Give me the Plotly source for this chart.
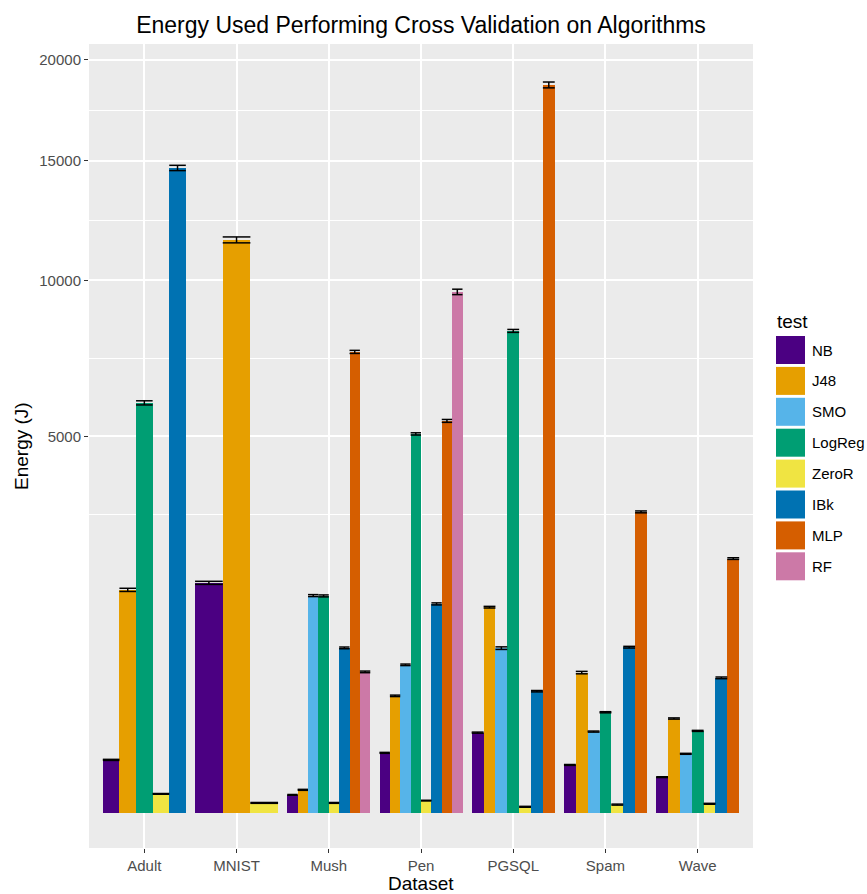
import numpy as np
import plotly.graph_objects as go

# ---------------- data ----------------
datasets = ["Adult", "MNIST", "Mush", "Pen", "PGSQL", "Spam", "Wave"]
algorithms = ["NB", "J48", "SMO", "LogReg", "ZeroR", "IBk", "MLP", "RF"]
colors = ["#4B0082", "#E69F00", "#56B4E9", "#009E73", "#F0E442", "#0072B2", "#D55E00", "#CC79A7"]

nb     = [99, 1866, 11.4, 127, 227, 81, 45]
j48    = [1754, 11580, 18.7, 483, 1492, 694, 314]
smo    = [None, None, 1665, 773, 957, 233, 123]
logreg = [5929, None, 1660, 5065, 8193, 357, 237]
zeror  = [12.7, 3.5, 3.5, 5.3, 1.3, 2.4, 2.9]
ibk    = [14670, None, 960, 1540, 522, 968, 643]
mlp    = [None, None, 7495, 5419, 18690, 3195, 2281]
rf     = [None, None, 701, 9573, None, None, None]

nb_err     = [2, 25, 0.5, 2, 3, 1.5, 1]
j48_err    = [25, 120, 0.8, 6, 12, 12, 4]
smo_err    = [None, None, 15, 8, 15, 3, 2]
logreg_err = [60, None, 15, 30, 50, 4, 3]
zeror_err  = [0.5, 0.3, 0.3, 0.3, 0.2, 0.3, 0.3]
ibk_err    = [120, None, 10, 15, 6, 10, 8]
mlp_err    = [None, None, 50, 40, 150, 20, 15]
rf_err     = [None, None, 8, 100, None, None, None]

y_ticks = [5000, 10000, 15000, 20000]
y_tick_labels = ["5000", "10000", "15000", "20000"]

values = dict(zip(algorithms, [nb, j48, smo, logreg, zeror, ibk, mlp, rf]))
errors = dict(zip(algorithms, [nb_err, j48_err, smo_err, logreg_err, zeror_err, ibk_err, mlp_err, rf_err]))

# ---------------- layout geometry ----------------
W, H = 867, 894
ML, MR, MT, MB = 89, 114, 44, 46
PW, PH = W - ML - MR, H - MT - MB


def px_x(p):
    return (p - ML) / PW


def px_y(p):
    return (H - MB - p) / PH


# ---------------- dodge positions (ggplot position_dodge, width 0.9) ----------------
pos = {a: [None] * len(datasets) for a in algorithms}
wid = {a: [None] * len(datasets) for a in algorithms}
for i, ds in enumerate(datasets):
    present = [a for a in algorithms if values[a][i] is not None]
    n = len(present)
    w = 0.9 / n
    for k, a in enumerate(present):
        pos[a][i] = (i + 1) - 0.45 + w * (k + 0.5)
        wid[a][i] = w

fig = go.Figure()

# bars (sqrt-transformed y scale)
for a, c in zip(algorithms, colors):
    idx = [i for i in range(len(datasets)) if values[a][i] is not None]
    fig.add_trace(go.Bar(
        x=[pos[a][i] for i in idx],
        y=[np.sqrt(values[a][i]) for i in idx],
        width=[wid[a][i] for i in idx],
        marker=dict(color=c, line=dict(width=0)),
        name=a,
        showlegend=False,
    ))

# error bars
ex, ey = [], []
for a in algorithms:
    for i in range(len(datasets)):
        v = values[a][i]
        if v is None:
            continue
        e = errors[a][i]
        x0 = pos[a][i] - wid[a][i] / 2
        x1 = pos[a][i] + wid[a][i] / 2
        lo = np.sqrt(max(v - e, 0))
        hi = np.sqrt(v + e)
        ex += [x0, x1, None, x0, x1, None, pos[a][i], pos[a][i], None]
        ey += [hi, hi, None, lo, lo, None, lo, hi, None]
fig.add_trace(go.Scatter(x=ex, y=ey, mode="lines", line=dict(color="black", width=1.5),
                         showlegend=False, hoverinfo="skip"))

# y-axis minor breaks (midpoints in transformed space)
major_t = np.sqrt(np.array(y_ticks, dtype=float))
mids = list((major_t[:-1] + major_t[1:]) / 2)
minor_t = [major_t[0] - (mids[0] - major_t[0])] + mids

FONT = "Liberation Sans, Arial, Helvetica, sans-serif"

fig.update_layout(
    width=W, height=H,
    margin=dict(l=ML, r=MR, t=MT, b=MB),
    paper_bgcolor="white",
    plot_bgcolor="#EBEBEB",
    barmode="overlay",
    bargap=0,
    font=dict(family=FONT),
    title=dict(text="Energy Used Performing Cross Validation on Algorithms",
               x=0.5, xref="paper", xanchor="center",
               y=1 - 25 / H, yref="container", yanchor="middle",
               font=dict(size=23, color="black", family=FONT)),
    showlegend=False,
)

fig.update_xaxes(
    range=[0.4, 7.6],
    tickmode="array", tickvals=list(range(1, len(datasets) + 1)), ticktext=datasets,
    showgrid=True, gridcolor="white", gridwidth=2,
    zeroline=False, showline=False,
    ticks="outside", ticklen=4, tickwidth=1.2, tickcolor="#333333",
    tickfont=dict(size=15, color="#4D4D4D", family=FONT),
    fixedrange=True,
)
fig.update_yaxes(
    range=[-6.6, 144.4],
    tickmode="array", tickvals=list(major_t), ticktext=y_tick_labels,
    showgrid=True, gridcolor="white", gridwidth=2,
    minor=dict(tickmode="array", tickvals=minor_t, showgrid=True,
               gridcolor="white", gridwidth=1.1, ticks=""),
    zeroline=False, showline=False,
    ticks="outside", ticklen=4, tickwidth=1.2, tickcolor="#333333",
    tickfont=dict(size=15, color="#4D4D4D", family=FONT),
    fixedrange=True,
)

# axis titles
fig.add_annotation(text="Dataset", x=0.5, y=px_y(884), xref="paper", yref="paper",
                   showarrow=False, xanchor="center", yanchor="middle",
                   font=dict(size=19, color="black", family=FONT))
fig.add_annotation(text="Energy (J)", x=px_x(21), y=px_y(MT + PH / 2), xref="paper", yref="paper",
                   showarrow=False, xanchor="center", yanchor="middle", textangle=-90,
                   font=dict(size=19, color="black", family=FONT))

# legend (ggplot style, built from algorithm list)
fig.add_annotation(text="test", x=px_x(775), y=px_y(321), xref="paper", yref="paper",
                   showarrow=False, xanchor="left", yanchor="middle",
                   font=dict(size=19, color="black", family=FONT))
key_top, key_step, key_h, key_w = 336, 30.9, 28, 29
for k, (a, c) in enumerate(zip(algorithms, colors)):
    top = key_top + k * key_step
    fig.add_shape(type="rect", xref="paper", yref="paper",
                  x0=px_x(776), x1=px_x(776 + key_w), y0=px_y(top + key_h), y1=px_y(top),
                  fillcolor=c, line=dict(width=0))
    fig.add_annotation(text=a, x=px_x(810), y=px_y(top + key_h / 2), xref="paper", yref="paper",
                       showarrow=False, xanchor="left", yanchor="middle",
                       font=dict(size=15, color="black", family=FONT))

fig.write_html("out.html")
